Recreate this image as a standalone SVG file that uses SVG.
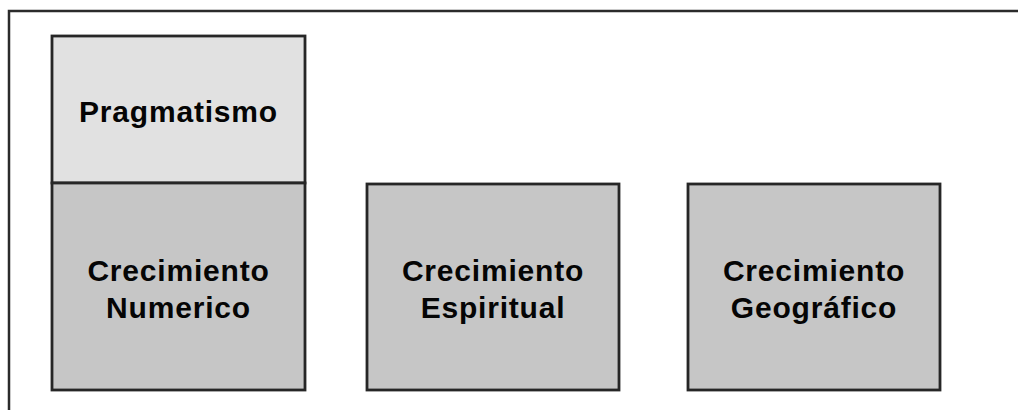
<svg xmlns="http://www.w3.org/2000/svg" width="1018" height="410" viewBox="0 0 1018 410">
<style>
.frame{fill:none;stroke:#2b2b2b;stroke-width:2.5}
.box{stroke:#262626;stroke-width:2.8}
.light{fill:#e1e1e1}
.mid{fill:#c6c6c6}
.t{font-family:"Liberation Sans",Arial,sans-serif;font-weight:bold;font-size:30px;fill:#050505;text-anchor:middle;letter-spacing:0.8px}
</style>
<rect width="1018" height="410" fill="#ffffff"/>
<path class="frame" d="M9,412 V11 H1020"/>
<g id="pragmatismo">
<rect class="box light" x="52" y="36" width="253" height="147"/>
<text class="t" x="178.5" y="122">Pragmatismo</text>
</g>
<g id="crecimiento-numerico">
<rect class="box mid" x="52" y="183" width="253" height="207"/>
<text class="t" x="178.5" y="281">Crecimiento</text>
<text class="t" x="178.5" y="318">Numerico</text>
</g>
<g id="crecimiento-espiritual">
<rect class="box mid" x="367" y="184" width="252" height="206"/>
<text class="t" x="493" y="281">Crecimiento</text>
<text class="t" x="493" y="318">Espiritual</text>
</g>
<g id="crecimiento-geografico">
<rect class="box mid" x="688" y="184" width="252" height="206"/>
<text class="t" x="814" y="281">Crecimiento</text>
<text class="t" x="814" y="318">Geográfico</text>
</g>
<g id="connectors"></g>
</svg>
